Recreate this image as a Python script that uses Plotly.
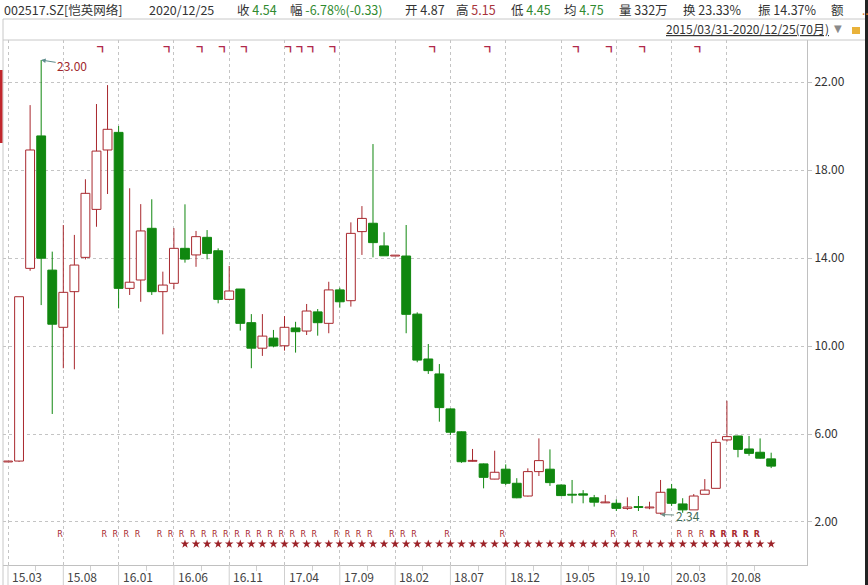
import plotly.graph_objects as go

# 002517.SZ monthly candles, 2015/03 .. 2020/12 (70 months)
open_px = [4.73, 4.77, 13.53, 19.55, 13.45, 10.85, 12.47, 14.03, 16.21, 18.91,
           19.71, 12.62, 13.00, 15.35, 12.47, 12.85, 14.44, 14.14, 14.94, 14.33,
           12.12, 12.59, 11.06, 9.90, 10.36, 10.01, 10.82, 10.68, 11.55, 11.03,
           12.55, 12.06, 15.20, 15.58, 14.55, 14.09, 14.09, 11.45, 9.41, 8.73,
           7.14, 6.10, 4.76, 4.64, 3.95, 4.40, 3.76, 3.18, 4.29, 4.40,
           3.68, 3.25, 3.28, 3.10, 2.87, 2.85, 2.62, 2.70, 2.64, 2.40,
           3.50, 2.82, 2.55, 3.26, 3.53, 5.73, 5.91, 5.32, 5.17, 4.87]
high_px = [4.73, 12.24, 20.95, 23.00, 14.29, 15.50, 15.05, 17.58, 21.00, 21.86,
           20.00, 17.17, 16.45, 16.67, 13.38, 15.36, 16.44, 15.23, 15.27, 14.44,
           13.64, 12.59, 11.45, 11.45, 10.73, 11.36, 11.10, 11.91, 11.68, 12.92,
           12.65, 15.62, 16.36, 19.18, 15.17, 14.09, 15.50, 11.53, 10.09, 9.18,
           7.16, 6.12, 5.32, 4.66, 5.24, 4.62, 3.99, 4.44, 5.80, 5.30,
           3.70, 3.91, 3.45, 3.23, 3.23, 3.03, 3.12, 3.18, 2.92, 3.91,
           3.73, 3.08, 3.27, 3.95, 5.76, 7.51, 5.92, 5.91, 5.80, 5.15]
low_px = [4.73, 4.73, 13.42, 11.86, 6.91, 8.99, 8.94, 13.94, 15.42, 16.91,
          11.71, 12.32, 12.01, 12.32, 10.53, 12.58, 13.79, 13.60, 13.94, 11.94,
          12.12, 10.70, 8.99, 9.55, 9.94, 9.79, 9.70, 10.50, 10.47, 10.58,
          11.74, 11.79, 14.14, 14.03, 14.10, 14.09, 10.58, 9.26, 8.73, 6.56,
          5.95, 4.69, 4.75, 3.53, 3.94, 3.68, 3.08, 3.16, 4.09, 3.64,
          3.18, 2.85, 2.85, 2.70, 2.87, 2.50, 2.55, 2.50, 2.58, 2.34,
          2.73, 2.42, 2.55, 3.26, 3.53, 5.65, 4.94, 5.01, 4.88, 4.45]
close_px = [4.73, 12.24, 18.91, 13.99, 10.99, 12.44, 13.68, 16.94, 18.86, 19.85,
            12.62, 12.90, 15.23, 12.47, 12.77, 14.44, 13.95, 14.97, 14.21, 12.12,
            12.50, 11.03, 9.90, 10.45, 10.00, 10.85, 10.65, 11.59, 11.06, 12.55,
            12.01, 15.12, 15.80, 14.70, 14.10, 14.09, 11.44, 9.36, 8.88, 7.20,
            6.08, 4.74, 4.77, 4.03, 4.26, 3.76, 3.10, 4.29, 4.79, 3.79,
            3.20, 3.22, 3.22, 2.90, 2.88, 2.62, 2.68, 2.66, 2.66, 3.35,
            2.85, 2.55, 3.18, 3.45, 5.62, 5.88, 5.30, 5.12, 4.90, 4.54]

tick_months = [0, 5, 10, 15, 20, 25, 30, 35, 40, 45, 50, 55, 60, 65]
tick_labels = ['15.03', '15.08', '16.01', '16.06', '16.11', '17.04', '17.09',
               '18.02', '18.07', '18.12', '19.05', '19.10', '20.03', '20.08']

# event markers along top / bottom strips
flag_months = [8, 14, 17, 19, 21, 25, 26, 27, 29, 38, 43, 51, 54, 57, 62]
r_months = [5, 9, 10, 11, 12, 14, 15, 16, 17, 18, 19, 20, 21, 22, 23, 24, 25,
            26, 27, 28, 30, 31, 32, 33, 35, 36, 37, 40, 45, 55, 57, 61, 62, 63]
r_bold_months = [64, 65, 66, 67, 68]
star_months = list(range(16, 70))

UP = '#a8282e'
DOWN = '#10870f'
GRID = '#c4c4c4'
FONT = 'Noto Sans CJK SC, Noto Sans, sans-serif'

# plot area in pixels: x 3..807, y 40..565
X_MIN, X_MAX = -0.452, 72.24
Y_MIN, Y_MAX = 0.045, 23.91


def paper_x(px):
    return (px - 3) / 804


def paper_y(py):
    return (565 - py) / 525


months = list(range(len(open_px)))
is_up = [c >= o for o, c in zip(open_px, close_px)]

fig = go.Figure()

# wicks, split so they never cross the hollow bodies
for up_side, color in ((True, UP), (False, DOWN)):
    wx, wy = [], []
    for m, o, h, l, c, u in zip(months, open_px, high_px, low_px, close_px, is_up):
        if u != up_side:
            continue
        top, bottom = max(o, c), min(o, c)
        if h > top:
            wx += [m, m, None]
            wy += [top, h, None]
        if l < bottom:
            wx += [m, m, None]
            wy += [l, bottom, None]
    fig.add_trace(go.Scatter(x=wx, y=wy, mode='lines', line=dict(color=color, width=1),
                             hoverinfo='skip', showlegend=False))

bases = [min(o, c) for o, c in zip(open_px, close_px)]
heights = [max(abs(c - o), 0.04) for o, c in zip(open_px, close_px)]
fig.add_trace(go.Bar(
    x=months, y=heights, base=bases, width=0.8,
    marker=dict(color=['#ffffff' if u else DOWN for u in is_up],
                line=dict(color=[UP if u else DOWN for u in is_up], width=1)),
    hoverinfo='skip', showlegend=False,
))

# marker rows
fig.add_trace(go.Scatter(x=[m + 0.55 for m in flag_months], y=[23.55] * len(flag_months),
                         mode='text', text=['<b>┓</b>'] * len(flag_months),
                         textfont=dict(family=FONT, size=11, color='#b0284a'),
                         hoverinfo='skip', showlegend=False))
fig.add_trace(go.Scatter(x=[m - 0.3 for m in r_months], y=[1.41] * len(r_months),
                         mode='text', text=['R'] * len(r_months),
                         textfont=dict(family='DejaVu Sans', size=8, color=UP),
                         hoverinfo='skip', showlegend=False))
fig.add_trace(go.Scatter(x=[m - 0.3 for m in r_bold_months], y=[1.41] * len(r_bold_months),
                         mode='text', text=['<b>R</b>'] * len(r_bold_months),
                         textfont=dict(family='DejaVu Sans', size=8, color=UP),
                         hoverinfo='skip', showlegend=False))
fig.add_trace(go.Scatter(x=star_months, y=[1.0] * len(star_months), mode='markers',
                         marker=dict(symbol='star', size=6.5, color='#9c2228'),
                         hoverinfo='skip', showlegend=False))

# highest / lowest annotations
i_max = high_px.index(max(high_px))
i_min = low_px.index(min(low_px))
annotations = [
    dict(x=i_max, y=high_px[i_max], xref='x', yref='y', text='%.2f' % high_px[i_max],
         showarrow=True, ax=31, ay=5, arrowhead=2, arrowsize=0.9, arrowwidth=1,
         arrowcolor='#5e8c8c', font=dict(family=FONT, size=12, color='#a0282c')),
    dict(x=i_min, y=low_px[i_min], xref='x', yref='y', text='%.2f' % low_px[i_min],
         showarrow=True, ax=27, ay=1, arrowhead=2, arrowsize=0.9, arrowwidth=1,
         arrowcolor='#6f8f86', font=dict(family=FONT, size=12, color='#3f6b58')),
]

# x tick labels sit right of their separators, just under the plot
tick_pos = [max(t, X_MIN) for t in tick_months]
for t, lab in zip(tick_pos, tick_labels):
    annotations.append(dict(x=t, y=paper_y(576), xref='x', yref='paper', xanchor='left',
                            yanchor='middle', xshift=2, showarrow=False, text=lab,
                            font=dict(family=FONT, size=12, color='#444444')))

# header quote line
LBL = '#333333'
G = '#2f8a2f'
R = '#a8323a'
header = [
    (2, '002517.SZ[恺英网络]'),
    (147, '2020/12/25'),
    (235, '收 <span style="color:%s">4.54</span>' % G),
    (288, '幅 <span style="color:%s">-6.78%%(-0.33)</span>' % G),
    (403, '开 4.87'),
    (454, '高 <span style="color:%s">5.15</span>' % R),
    (509, '低 <span style="color:%s">4.45</span>' % G),
    (562, '均 <span style="color:%s">4.75</span>' % G),
    (617, '量 332万'),
    (681, '换 23.33%'),
    (756, '振 14.37%'),
    (829, '额'),
]
for px, txt in header:
    annotations.append(dict(x=paper_x(px), y=paper_y(10), xref='paper', yref='paper',
                            xanchor='left', yanchor='middle', showarrow=False, text=txt,
                            font=dict(family=FONT, size=12.5, color=LBL)))
annotations.append(dict(x=paper_x(860), y=paper_y(10), xref='paper', yref='paper',
                        xanchor='left', yanchor='middle', showarrow=False, text='..',
                        font=dict(family=FONT, size=12, color='#e07a1f')))
annotations.append(dict(x=paper_x(831), y=paper_y(29), xref='paper', yref='paper',
                        xanchor='right', yanchor='middle', showarrow=False,
                        text='<u>2015/03/31-2020/12/25(70月)</u>',
                        font=dict(family=FONT, size=12, color='#333333')))
annotations.append(dict(x=paper_x(838), y=paper_y(29), xref='paper', yref='paper',
                        xanchor='center', yanchor='middle', showarrow=False, text='▼',
                        font=dict(family='DejaVu Sans', size=10, color='#8a8a8a')))

shapes = [
    # header separator and frame
    dict(type='line', xref='paper', yref='paper', x0=paper_x(3), x1=paper_x(868),
         y0=paper_y(19), y1=paper_y(19), line=dict(color='#c8c8c8', width=1)),
    dict(type='line', xref='paper', yref='paper', x0=paper_x(3), x1=paper_x(868),
         y0=paper_y(40), y1=paper_y(40), line=dict(color='#c8c8c8', width=1)),
    dict(type='line', xref='paper', yref='paper', x0=paper_x(3), x1=paper_x(3),
         y0=paper_y(19), y1=paper_y(585), line=dict(color='#c8c8c8', width=1)),
    dict(type='line', xref='paper', yref='paper', x0=paper_x(866.5), x1=paper_x(866.5),
         y0=paper_y(0), y1=paper_y(585), line=dict(color='#222222', width=3)),
    dict(type='rect', xref='paper', yref='paper', x0=paper_x(0), x1=paper_x(2.5),
         y0=paper_y(143), y1=paper_y(70), line=dict(width=0), fillcolor='#c1272d'),
    dict(type='rect', xref='paper', yref='paper', x0=paper_x(852), x1=paper_x(860),
         y0=paper_y(34), y1=paper_y(27), line=dict(width=0), fillcolor='#e9b23a'),
]
for t in tick_pos:
    shapes.append(dict(type='line', xref='x', yref='paper', x0=t, x1=t,
                       y0=paper_y(565), y1=paper_y(585), line=dict(color='#cfcfcf', width=1)))

fig.update_layout(
    width=868, height=585,
    margin=dict(l=3, r=61, t=40, b=20),
    paper_bgcolor='white', plot_bgcolor='white',
    barmode='overlay', showlegend=False,
    font=dict(family=FONT, size=12, color='#333333'),
    xaxis=dict(
        range=[X_MIN, X_MAX], tickmode='array', tickvals=tick_pos, ticktext=tick_labels,
        showticklabels=False, ticks='',
        showgrid=True, gridcolor=GRID, griddash='dot', gridwidth=1,
        showline=True, linecolor='#c0c0c0', zeroline=False,
        minor=dict(tick0=2.5, dtick=5, ticks='outside', ticklen=5, tickcolor='#cfcfcf',
                   showgrid=False),
    ),
    yaxis=dict(
        side='right', range=[Y_MIN, Y_MAX], tick0=2, dtick=4, tickformat='.2f',
        showgrid=True, gridcolor=GRID, griddash='dot', gridwidth=1,
        ticks='outside', ticklen=4, tickcolor='#c0c0c0',
        showline=True, linecolor='#c0c0c0', zeroline=False,
        tickfont=dict(family=FONT, size=12, color='#333333'),
    ),
    annotations=annotations,
    shapes=shapes,
)

# the page's default body margin would push the 868x585 figure off the window
fig.write_html('out.html', config={'displayModeBar': False},
               post_script="document.body.style.margin='0';")
